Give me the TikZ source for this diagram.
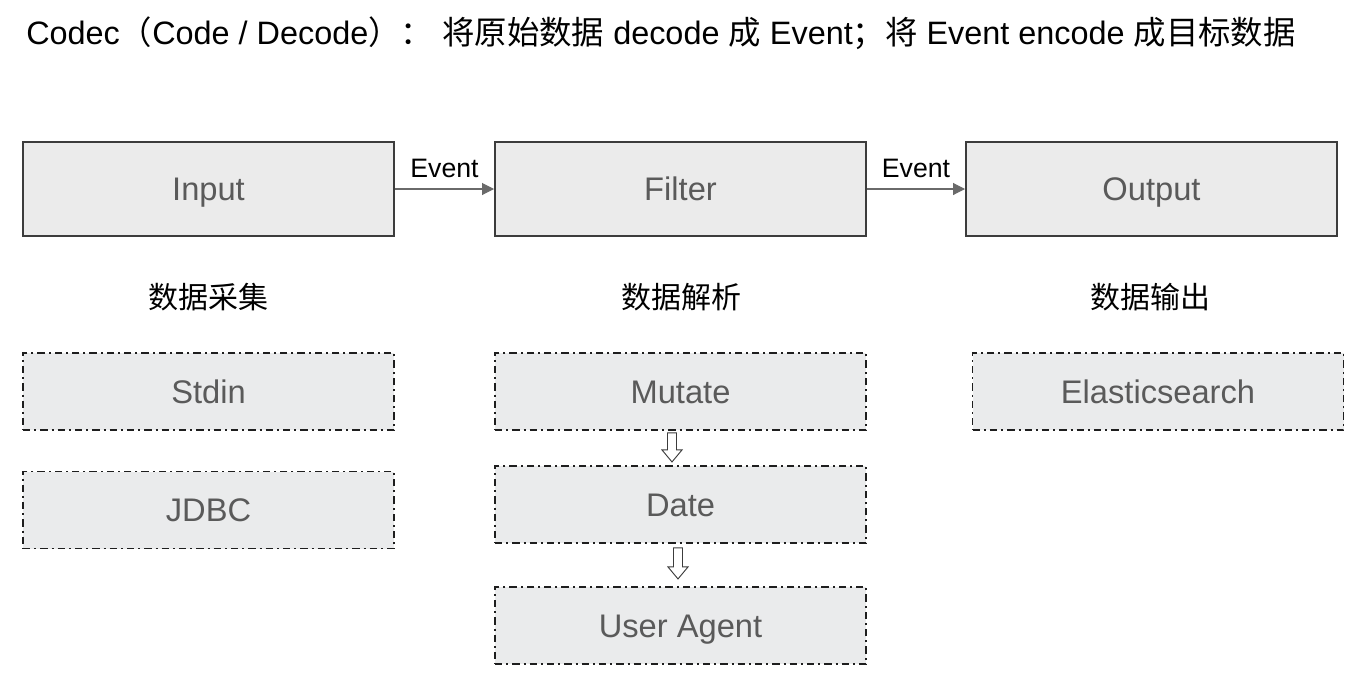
\documentclass[tikz,border=0pt]{standalone}
\usepackage{fontspec}
\setmainfont{Liberation Sans}
\newfontfamily\cjk{Noto Sans CJK SC}
\usetikzlibrary{arrows.meta,calc}
\definecolor{boxfill}{HTML}{EBEBEB}
\definecolor{plugfill}{HTML}{EAEBEC}
\definecolor{boxline}{HTML}{3C3C3C}
\definecolor{plugline}{HTML}{1E1E1E}
\definecolor{txtgray}{HTML}{5A5A5A}
\definecolor{arrgray}{HTML}{6A6A6A}
\tikzset{
  boxtext/.style={text=txtgray, font=\fontsize{24.5}{28}\selectfont, text height=22.5pt, text depth=5pt},
  mainbox/.style={draw=boxline, line width=1.5pt, fill=boxfill, minimum width=371*0.75pt, minimum height=94*0.75pt, inner sep=0pt, boxtext},
  plugbox/.style={draw=plugline, line width=1.4pt, dash pattern=on 5.5pt off 3pt on 1.5pt off 3pt, fill=plugfill, minimum width=371*0.75pt, minimum height=77*0.75pt, inner sep=0pt, boxtext},
  flowarrow/.style={draw=arrgray, line width=0.8pt, -{Triangle[length=9pt,width=9pt,fill=arrgray]}},
  evlabel/.style={font=\fontsize{20}{22}\selectfont, text=black, anchor=south},
  stage/.style={font=\cjk\fontsize{22.5}{26}\selectfont, text=black},
  hollow/.style={draw=boxline, line width=0.7pt, fill=white},
}
\begin{document}
\begin{tikzpicture}[x=0.75pt, y=-0.75pt]
\useasboundingbox (0,0) rectangle (1352,682);
\fill[white] (0,0) rectangle (1352,682);
% title
\node[anchor=west, inner sep=0pt, font=\fontsize{24.3}{28}\selectfont] (title) at (26,33)
  {Codec{\cjk（}Code / Decode{\cjk）：} {\cjk 将原始数据} decode {\cjk 成} Event{\cjk；将} Event encode {\cjk 成目标数据}};
% main boxes
\node[mainbox] (input) at (208.5,189) {Input};
\node[mainbox] (filter) at (680.5,189) {Filter};
\node[mainbox] (output) at (1151.5,189) {Output};
\draw[flowarrow] (input.east) -- node[evlabel, yshift=5pt] (ev1) {Event} (filter.west);
\draw[flowarrow] (filter.east) -- node[evlabel, yshift=5pt] (ev2) {Event} (output.west);
% stage labels
\node[stage] (s1) at (208,297) {数据采集};
\node[stage] (s2) at (681,297) {数据解析};
\node[stage] (s3) at (1150,297) {数据输出};
% plugin boxes
\node[plugbox] (stdin) at (208.5,391.5) {Stdin};
\node[plugbox] (jdbc) at (208.5,510) {JDBC};
\node[plugbox] (mutate) at (680.5,391.5) {Mutate};
\node[plugbox] (date) at (680.5,504.5) {Date};
\node[plugbox] (ua) at (680.5,625.5) {User Agent};
\node[plugbox] (es) at (1158,391.5) {Elasticsearch};
% hollow arrows
\coordinate (h1) at ($(mutate.south)+(-8.5,0)$);
\coordinate (h2) at ($(date.south)+(-2.5,0)$);
\draw[hollow] ($(h1)+(-4.5,2)$) -- ($(h1)+(4.5,2)$) -- ($(h1)+(4.5,19)$) -- ($(h1)+(10,19)$)
  -- ($(h1)+(0,31)$) -- ($(h1)+(-10,19)$) -- ($(h1)+(-4.5,19)$) -- cycle;
\draw[hollow] ($(h2)+(-4.5,4)$) -- ($(h2)+(4.5,4)$) -- ($(h2)+(4.5,23)$) -- ($(h2)+(10,23)$)
  -- ($(h2)+(0,35)$) -- ($(h2)+(-10,23)$) -- ($(h2)+(-4.5,23)$) -- cycle;
\end{tikzpicture}
\end{document}
